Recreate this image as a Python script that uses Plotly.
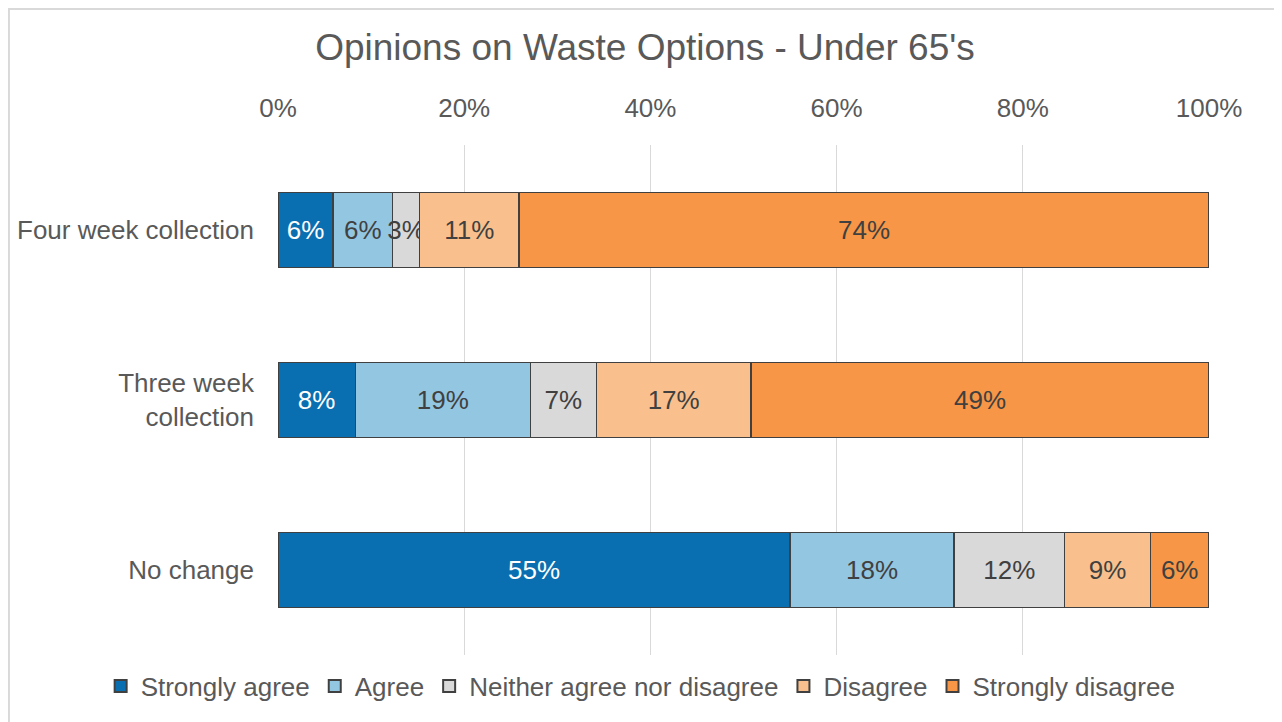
import plotly.graph_objects as go

categories = ["Four week collection", "Three week<br>collection", "No change"]
series_names = ["Strongly agree", "Agree", "Neither agree nor disagree", "Disagree", "Strongly disagree"]
strongly_agree = [0.059, 0.083, 0.550]
agree = [0.064, 0.188, 0.176]
neither = [0.029, 0.071, 0.119]
disagree = [0.107, 0.166, 0.092]
strongly_disagree = [0.741, 0.492, 0.063]
tick_vals = [0, 0.2, 0.4, 0.6, 0.8, 1.0]
tick_text = ["0%", "20%", "40%", "60%", "80%", "100%"]

series_values = [strongly_agree, agree, neither, disagree, strongly_disagree]
colors = ["#0A6FB0", "#93C6E0", "#D9D9D9", "#F9C08E", "#F79646"]
text_colors = ["#FFFFFF", "#404040", "#404040", "#404040", "#404040"]

FONT = "Liberation Sans, Arial, sans-serif"
FS = 26

fig = go.Figure()
for name, vals, col, tcol in zip(series_names, series_values, colors, text_colors):
    fig.add_trace(go.Bar(
        name=name, y=categories, x=vals, orientation="h",
        marker=dict(color=col, line=dict(color="#404040", width=1.5)),
        texttemplate="%{x:.0%}", textposition="inside", insidetextanchor="middle",
        textangle=0, constraintext="none",
        textfont=dict(family=FONT, size=FS, color=tcol),
        hoverinfo="skip",
    ))

fig.update_layout(
    barmode="stack",
    bargap=0.56,
    width=1274, height=714,
    margin=dict(l=270, r=73, t=137, b=67, autoexpand=False),
    paper_bgcolor="white", plot_bgcolor="white",
    font=dict(family=FONT, color="#595959"),
    title=dict(text="Opinions on Waste Options - Under 65's", x=0.5, xanchor="center",
               xref="container", y=0.945, yanchor="middle",
               font=dict(family=FONT, size=37, color="#595959")),
    xaxis=dict(side="top", range=[0, 1], tickvals=tick_vals, ticktext=tick_text,
               showgrid=True, gridcolor="#D9D9D9", gridwidth=1.3, zeroline=False,
               showline=False, ticks="", ticklabelstandoff=22,
               tickfont=dict(family=FONT, size=FS, color="#595959")),
    yaxis=dict(autorange="reversed", showgrid=False, zeroline=False, showline=False, ticks="",
               ticklabelstandoff=23,
               tickfont=dict(family=FONT, size=FS, color="#595959")),
    legend=dict(orientation="h", x=-0.1905, xanchor="left", xref="paper",
                y=-0.061, yanchor="middle", yref="paper", traceorder="normal",
                font=dict(family=FONT, size=FS, color="#595959"),
                itemwidth=30, itemsizing="constant"),
    shapes=[dict(type="rect", xref="paper", yref="paper",
                 x0=-0.289, x1=1.09, y0=-0.16, y1=1.2667,
                 line=dict(color="#D9D9D9", width=2), fillcolor="rgba(0,0,0,0)", layer="below")],
)

fig.write_html("out.html")
